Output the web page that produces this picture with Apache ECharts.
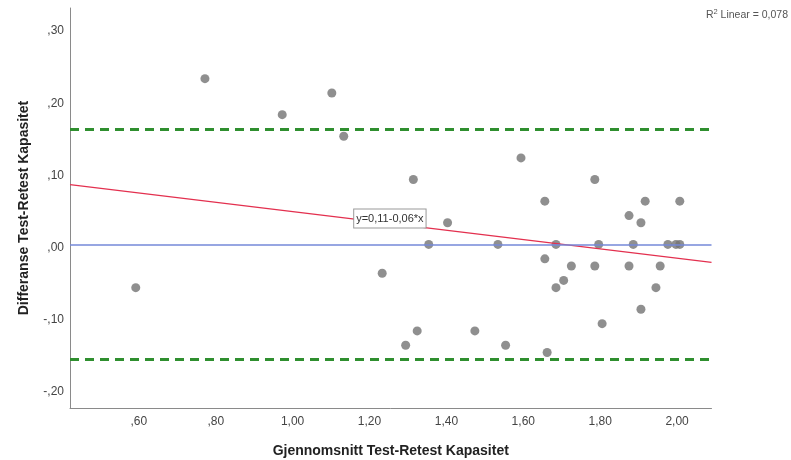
<!DOCTYPE html>
<html>
<head>
<meta charset="utf-8">
<script src="https://cdn.jsdelivr.net/npm/echarts@6/dist/echarts.min.js"></script>
<style>
  html, body { margin: 0; padding: 0; background: #fff; }
  #chart { width: 791px; height: 460px; }
</style>
</head>
<body>
<div id="chart"></div>
<script>
// Mean of test and retest (x) against their difference (y)
const meanValues = [
  0.592, 0.772, 0.973, 1.102, 1.133, 1.233, 1.294, 1.314, 1.324, 1.354,
  1.403, 1.474, 1.534, 1.554, 1.594, 1.656, 1.656, 1.662, 1.685, 1.685,
  1.705, 1.725, 1.786, 1.786, 1.796, 1.805, 1.875, 1.875, 1.886, 1.906,
  1.906, 1.917, 1.945, 1.956, 1.976, 2.007, 2.007, 1.997
];
const diffValues = [
  -0.06, 0.23, 0.18, 0.21, 0.15, -0.04, -0.14, 0.09, -0.12, 0.00,
  0.03, -0.12, 0.00, -0.14, 0.12, 0.06, -0.02, -0.15, 0.00, -0.06,
  -0.05, -0.03, 0.09, -0.03, 0.00, -0.11, 0.04, -0.03, 0.00, 0.03,
  -0.09, 0.06, -0.06, -0.03, 0.00, 0.06, 0.00, 0.00
];

// Fitted line and limits of agreement
const fitIntercept = 0.110;
const fitSlope = -0.0646;
const fitLabel = 'y=0,11-0,06*x';
const rSquaredText = '0,078';
const limitUpper = 0.16;
const limitLower = -0.16;
const meanDiff = 0.00;

// Axis ranges and tick labels
const xMin = 0.421, xMax = 2.0895;
const yMin = -0.227, yMax = 0.328;
const xTicks = [0.6, 0.8, 1.0, 1.2, 1.4, 1.6, 1.8, 2.0];
const yTicks = [-0.2, -0.1, 0.0, 0.1, 0.2, 0.3];

const xTitle = 'Gjennomsnitt Test-Retest Kapasitet';
const yTitle = 'Differanse Test-Retest Kapasitet';

// Norwegian decimal format without the leading zero: ",30", "-,10", "1,20"
function fmt(v) {
  const s = Math.abs(v).toFixed(2).replace('.', ',');
  const body = s.startsWith('0,') ? s.slice(1) : s;
  return (v < -1e-9 ? '-' : '') + body;
}

const points = meanValues.map((x, i) => [x, diffValues[i]]);
const fitLine = [xMin, xMax].map(x => [x, fitIntercept + fitSlope * x]);
const labelX = 1.253, labelY = 0.0358;

const chart = echarts.init(document.getElementById('chart'), null, { renderer: 'canvas' });
const FONT = 'Liberation Sans, Arial, sans-serif';

chart.setOption({
  animation: false,
  backgroundColor: '#fff',
  grid: {
    left: 70, right: 79.5, top: 8, bottom: 52,
    containLabel: false, outerBoundsMode: 'none'
  },
  xAxis: {
    type: 'value', min: xMin, max: xMax,
    name: xTitle, nameLocation: 'middle', nameGap: 36,
    nameTextStyle: { fontFamily: FONT, fontWeight: 'bold', fontSize: 14, color: '#222' },
    axisLine: { show: true, onZero: false, lineStyle: { color: '#8a8a8a', width: 1 } },
    axisTick: { show: false },
    splitLine: { show: false },
    axisLabel: {
      customValues: xTicks, formatter: fmt, margin: 8,
      fontFamily: FONT, fontSize: 12, color: '#444'
    }
  },
  yAxis: {
    type: 'value', min: yMin, max: yMax,
    name: yTitle, nameLocation: 'middle', nameGap: 39, nameRotate: 90,
    nameTextStyle: { fontFamily: FONT, fontWeight: 'bold', fontSize: 14, color: '#222' },
    axisLine: { show: true, onZero: false, lineStyle: { color: '#8a8a8a', width: 1 } },
    axisTick: { show: false },
    splitLine: { show: false },
    axisLabel: {
      customValues: yTicks, margin: 6,
      formatter: v => '{a|' + fmt(v) + '}',
      rich: { a: { fontFamily: FONT, fontSize: 12, color: '#444', padding: [6, 0, 0, 0] } }
    }
  },
  series: [
    {
      name: 'limits', type: 'line', data: [], silent: true,
      markLine: {
        silent: true, symbol: 'none', label: { show: false },
        data: [
          { yAxis: limitUpper, lineStyle: { color: '#2f8f2f', width: 3, type: [9, 6] } },
          { yAxis: limitLower, lineStyle: { color: '#2f8f2f', width: 3, type: [9, 6] } },
          { yAxis: meanDiff, lineStyle: { color: '#7489d8', width: 1.5, type: 'solid' } }
        ]
      }
    },
    {
      name: 'fit', type: 'line', data: fitLine, showSymbol: false, silent: true,
      lineStyle: { color: '#e3304f', width: 1.3 },
      markPoint: {
        symbol: 'rect', symbolSize: 0,
        data: [{ coord: [labelX, labelY] }],
        label: {
          show: true, formatter: fitLabel, position: 'inside',
          fontFamily: FONT, fontSize: 11, color: '#333',
          backgroundColor: '#fff', borderColor: '#999', borderWidth: 1,
          padding: [4, 2, 3, 2]
        }
      }
    },
    {
      name: 'points', type: 'scatter', data: points, symbolSize: 9,
      itemStyle: { color: '#737373' }
    }
  ],
  graphic: [
    {
      type: 'text', right: 3, top: 8,
      style: {
        text: '{t|R}{s|2}{t| Linear = ' + rSquaredText + '}',
        rich: {
          t: { fontFamily: FONT, fontSize: 10.5, fill: '#555', verticalAlign: 'bottom' },
          s: { fontFamily: FONT, fontSize: 7.5, fill: '#555', verticalAlign: 'top', padding: [0, 0, 5, 0] }
        }
      }
    }
  ]
});
</script>
</body>
</html>
